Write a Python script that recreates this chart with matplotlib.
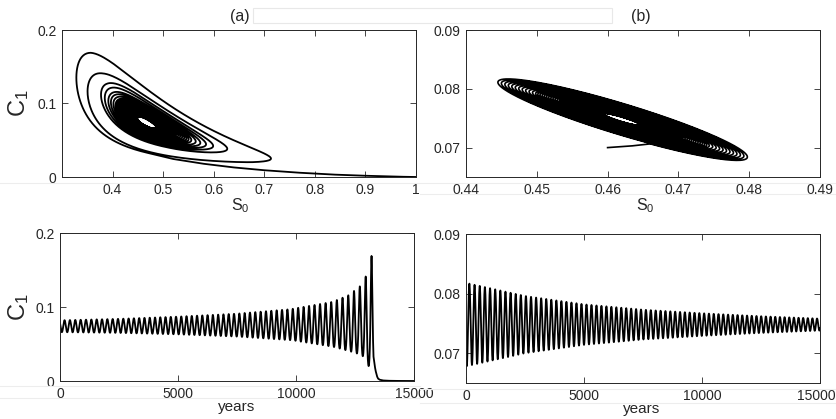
"""Phase portraits (S0, C1) and C1 time series for two parameter sets."""

import numpy as np
import matplotlib
matplotlib.use('Agg')
import matplotlib.pyplot as plt
import matplotlib.transforms as mtransforms
from matplotlib.lines import Line2D
from matplotlib.patches import Rectangle

# ---- panel (a): unstable focus, oscillations grow and end in washout ----
a_center_S = 0.465
a_peak_t = [0, 2500, 5000, 7500, 9750, 11550, 12230, 12710, 12950, 13200]
a_peak_C = [0.082, 0.084, 0.087, 0.091, 0.097, 0.107, 0.116, 0.128, 0.141, 0.169]
a_trough_t = [0, 2500, 5000, 7500, 9850, 11600, 12300, 12800, 13080, 13200]
a_trough_C = [0.066, 0.065, 0.063, 0.060, 0.055, 0.046, 0.040, 0.035, 0.020, 0.020]
# oscillation period (years)
a_period_t = [0, 5000, 10000, 13200]
a_period = [228, 222, 228, 250]
a_last_peak = 13200
# washout tail after the last peak
a_wash_t = [13320, 13350, 13380, 13410, 13440, 13480, 13550, 13700, 13950, 14350, 15000]
a_wash_S = [0.52, 0.58, 0.64, 0.70, 0.77, 0.84, 0.90, 0.95, 0.975, 0.99, 1.0]
a_wash_C = [0.0245, 0.0180, 0.0130, 0.0092, 0.0058, 0.0032, 0.0017, 0.0007, 0.0003, 0.0001, 0.0]

# ---- panel (b): stable focus, oscillations decay ----
b_center_S = 0.4620
b_center_C = 0.0748
b_amp_t = [0, 2500, 5000, 7500, 10000, 12500, 15000]
b_amp_C = [0.0070, 0.0048, 0.0034, 0.0025, 0.0019, 0.0014, 0.0010]
b_period_t = [0, 7500, 15000]
b_period = [220, 208, 195]
b_start_S = [0.4600, 0.4635]
b_start_C = [0.0700, 0.0703]


def spiral_a():
    t = np.arange(0, 15001, 1.0)
    P = np.interp(t, a_period_t, a_period)
    th = 2 * np.pi * np.cumsum(1.0 / P)
    th += np.pi / 2 - th[int(a_last_peak)]
    lmax = np.log(np.interp(t, a_peak_t, a_peak_C))
    lmin = np.log(np.interp(t, a_trough_t, a_trough_C))
    amp = (lmax - lmin) / 2
    off = (lmax + lmin) / 2
    C = np.exp(off + amp * np.sin(th))
    S = a_center_S * np.exp(0.37 * amp * np.cos(th + 0.91) + 0.044 * amp)
    keep = th <= np.pi / 2 + 2.15
    t, S, C = t[keep], S[keep], C[keep]
    t = np.concatenate([t, a_wash_t])
    S = np.concatenate([S, a_wash_S])
    C = np.concatenate([C, a_wash_C])
    return t, S, C


def spiral_b():
    t = np.arange(0, 15001, 1.0)
    P = np.interp(t, b_period_t, b_period)
    th = 1.77 + 2 * np.pi * np.cumsum(1.0 / P)
    A = np.interp(t, b_amp_t, b_amp_C)
    C = b_center_C + A * np.cos(th + 0.41)
    S = b_center_S - 2.55 * A * np.cos(th)
    return t, S, C


def style(ax):
    ax.tick_params(direction='in', top=True, right=True, length=4, width=0.6,
                   labelsize=10, colors='#262626', pad=4)
    for sp in ax.spines.values():
        sp.set_linewidth(0.7)
        sp.set_color('#262626')


def main():
    plt.rcParams['font.family'] = ['Liberation Sans', 'DejaVu Sans']
    plt.rcParams['mathtext.fontset'] = 'custom'
    plt.rcParams['mathtext.rm'] = 'Liberation Sans'
    plt.rcParams['mathtext.it'] = 'Liberation Sans:italic'

    ta, Sa, Ca = spiral_a()
    tb, Sb, Cb = spiral_b()

    fig = plt.figure(figsize=(8.36, 4.19), dpi=100)
    W, H = 836, 419

    # faint seams of the original composite image
    fig.add_artist(Rectangle((253 / W, 1 - 23 / H), (612 - 253) / W, 15 / H,
                             transform=fig.transFigure, fill=False,
                             ec='#e8e8e8', lw=0.8))
    for y, x0, x1 in [(183, 0, 836), (194, 420, 836), (386, 0, 420), (398, 0, 420),
                      (389, 420, 836), (403, 420, 836)]:
        fig.add_artist(Line2D([x0 / W, x1 / W], [1 - y / H, 1 - y / H],
                              transform=fig.transFigure, color='#ededed', lw=0.8))

    def box(x0, y0, x1, y1):
        return fig.add_axes([x0 / W, 1 - y1 / H, (x1 - x0) / W, (y1 - y0) / H])

    ax1 = box(62, 30, 416, 177)
    ax2 = box(466, 30, 820, 177)
    ax3 = box(60, 233, 414, 381)
    ax4 = box(466, 234, 820, 383)

    ax1.plot(Sa, Ca, color='black', lw=1.3)
    ax1.set_xlim(0.3, 1)
    ax1.set_ylim(0, 0.2)
    ax1.set_xticks([0.4, 0.5, 0.6, 0.7, 0.8, 0.9, 1])
    ax1.set_xticklabels(['0.4', '0.5', '0.6', '0.7', '0.8', '0.9', '1'])
    ax1.set_yticks([0, 0.1, 0.2])
    ax1.set_yticklabels(['0', '0.1', '0.2'])

    ax2.plot(np.concatenate([b_start_S, Sb]), np.concatenate([b_start_C, Cb]),
             color='black', lw=1.2)
    ax2.set_xlim(0.44, 0.49)
    ax2.set_ylim(0.065, 0.09)
    ax2.set_xticks([0.44, 0.45, 0.46, 0.47, 0.48, 0.49])
    ax2.set_yticks([0.07, 0.08, 0.09])

    ax3.plot(ta, Ca, color='black', lw=1.3)
    ax3.set_xlim(0, 15000)
    ax3.set_ylim(0, 0.2)
    ax3.set_xticks([0, 5000, 10000, 15000])
    ax3.set_yticks([0, 0.1, 0.2])
    ax3.set_yticklabels(['0', '0.1', '0.2'])

    ax4.plot(tb, Cb, color='black', lw=1.3)
    ax4.set_xlim(0, 15000)
    ax4.set_ylim(0.065, 0.09)
    ax4.set_xticks([0, 5000, 10000, 15000])
    ax4.set_yticks([0.07, 0.08, 0.09])

    for ax in (ax1, ax2, ax3, ax4):
        style(ax)

    # keep the right-most tick label inside the canvas
    last = ax4.get_xticklabels()[-1]
    last.set_transform(last.get_transform() +
                       mtransforms.ScaledTranslation(-4 / 100, 0, fig.dpi_scale_trans))

    def ftxt(x, y, s, **kw):
        fig.text(x / W, 1 - y / H, s, ha='center', va='center', color='#262626', **kw)

    ftxt(240, 16, '(a)', fontsize=11.5)
    ftxt(641, 16, '(b)', fontsize=11.5)
    ftxt(240, 206, r'$\mathrm{S}_0$', fontsize=11.5)
    ftxt(645, 206, r'$\mathrm{S}_0$', fontsize=11.5)
    ftxt(237, 407, 'years', fontsize=11)
    ftxt(642, 409, 'years', fontsize=11)
    ftxt(19, 103, r'$\mathrm{C}_1$', fontsize=17, rotation=90)
    ftxt(19, 307, r'$\mathrm{C}_1$', fontsize=17, rotation=90)

    fig.savefig('out.png', dpi=100)
    plt.close(fig)


if __name__ == '__main__':
    main()
